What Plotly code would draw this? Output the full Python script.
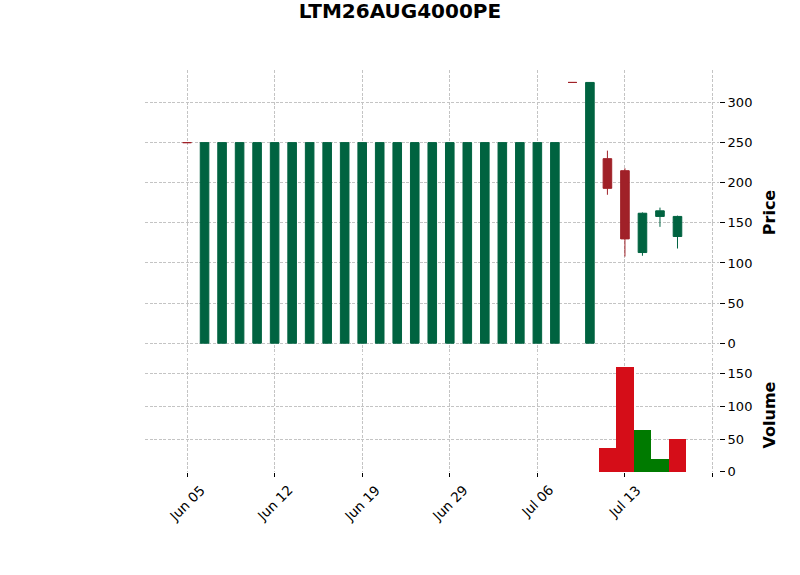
import plotly.graph_objects as go
from datetime import datetime

# ---------------- data ----------------
title_text = "LTM26AUG4000PE"

dates = [
    "2026-06-05", "2026-06-08", "2026-06-09", "2026-06-10", "2026-06-11",
    "2026-06-12", "2026-06-15", "2026-06-16", "2026-06-17", "2026-06-18",
    "2026-06-19", "2026-06-22", "2026-06-23", "2026-06-24", "2026-06-25",
    "2026-06-29", "2026-06-30", "2026-07-01", "2026-07-02", "2026-07-03",
    "2026-07-06", "2026-07-07", "2026-07-08", "2026-07-09", "2026-07-10",
    "2026-07-13", "2026-07-14", "2026-07-15", "2026-07-16",
]
opens = [250] + [0] * 21 + [325, 0, 230, 215, 113, 158, 133]
highs = [250] + [250] * 21 + [325, 325, 240, 218, 163, 169, 159]
lows = [250] + [0] * 21 + [325, 0, 185, 108, 109, 145, 118]
closes = [250] + [250] * 21 + [325, 325, 193, 130, 162, 165, 158]
volumes = [0] * 24 + [36, 160, 64, 19, 50]

price_ticks = [0, 50, 100, 150, 200, 250, 300]
volume_ticks = [0, 50, 100, 150]
x_tick_positions = [0, 5, 10, 15, 20, 25, 30]

# ---------------- styles ----------------
UP = "#006340"
DOWN = "#a02128"
VUP = "#007a00"
VDOWN = "#d50d18"
GRID = "#c4c4c4"
FONT = "DejaVu Sans"

n = len(dates)
xs = list(range(n))
x_labels = [
    datetime.strptime(dates[i], "%Y-%m-%d").strftime("%b %d") if i < n else ""
    for i in x_tick_positions
]

is_up = [c > o for o, c in zip(opens, closes)]


def subset(flag):
    idx = [i for i in range(n) if is_up[i] == flag]
    return (
        [xs[i] for i in idx],
        [opens[i] for i in idx],
        [highs[i] for i in idx],
        [lows[i] for i in idx],
        [closes[i] for i in idx],
    )


fig = go.Figure()
for flag, col in ((True, UP), (False, DOWN)):
    sx, so, sh, sl, sc = subset(flag)
    fig.add_trace(
        go.Candlestick(
            x=sx, open=so, high=sh, low=sl, close=sc,
            increasing=dict(line=dict(color=col, width=1), fillcolor=col),
            decreasing=dict(line=dict(color=col, width=1), fillcolor=col),
            xaxis="x", yaxis="y", showlegend=False, hoverinfo="skip",
        )
    )

vol_colors = [VUP if (i > 0 and closes[i] > closes[i - 1]) else VDOWN for i in range(n)]
fig.add_trace(
    go.Bar(
        x=xs, y=volumes, width=1.0, marker=dict(color=vol_colors, line=dict(width=0)),
        xaxis="x2", yaxis="y2", showlegend=False, hoverinfo="skip",
    )
)

xr = [-2.4, 30.37]
grid_common = dict(showgrid=True, gridcolor=GRID, gridwidth=0.8, griddash="3px,1.5px",
                   zeroline=False, showline=False)

PLOT_H = 575 - 70 - 103

annotations = []
for pos, lab in zip(x_tick_positions, x_labels):
    if not lab:
        continue
    annotations.append(dict(
        x=pos, xref="x2", y=-7 / PLOT_H, yref="paper",
        text=lab, textangle=-45, showarrow=False,
        xanchor="center", yanchor="top",
        font=dict(family=FONT, size=13.5, color="black"),
    ))

fig.update_layout(
    width=800, height=575,
    margin=dict(l=145, r=81, t=70, b=103),
    paper_bgcolor="white", plot_bgcolor="white",
    font=dict(family=FONT, size=12.5, color="black"),
    title=dict(text="<b>" + title_text + "</b>", x=0.5, xref="container", xanchor="center",
               y=1 - 11 / 575, yref="container", yanchor="middle",
               font=dict(family=FONT, size=20, color="black")),
    bargap=0,
    annotations=annotations,
    xaxis=dict(domain=[0, 1], anchor="y", range=xr, tickmode="array",
               tickvals=x_tick_positions, showticklabels=False, ticks="",
               rangeslider=dict(visible=False), **grid_common),
    xaxis2=dict(domain=[0, 1], anchor="y2", range=xr, tickmode="array",
                tickvals=x_tick_positions, showticklabels=False,
                ticks="outside", ticklen=4, tickcolor="black", **grid_common),
    yaxis=dict(domain=[(472 - 355) / PLOT_H, 1], anchor="x", side="right",
               range=[-14.7, 340.5], tickmode="array", tickvals=price_ticks,
               ticks="outside", ticklen=5, tickcolor="black",
               tickfont=dict(family=FONT, size=13, color="black"),
               title=dict(text="<b>Price</b>", font=dict(family=FONT, size=16, color="black"),
                          standoff=12),
               **grid_common),
    yaxis2=dict(domain=[0, (472 - 358) / PLOT_H], anchor="x2", side="right",
                range=[-0.5, 174], tickmode="array", tickvals=volume_ticks,
                ticks="outside", ticklen=5, tickcolor="black",
                tickfont=dict(family=FONT, size=13, color="black"),
                title=dict(text="<b>Volume</b>", font=dict(family=FONT, size=16, color="black"),
                           standoff=12),
                **grid_common),
)

fig.write_html("out.html")
